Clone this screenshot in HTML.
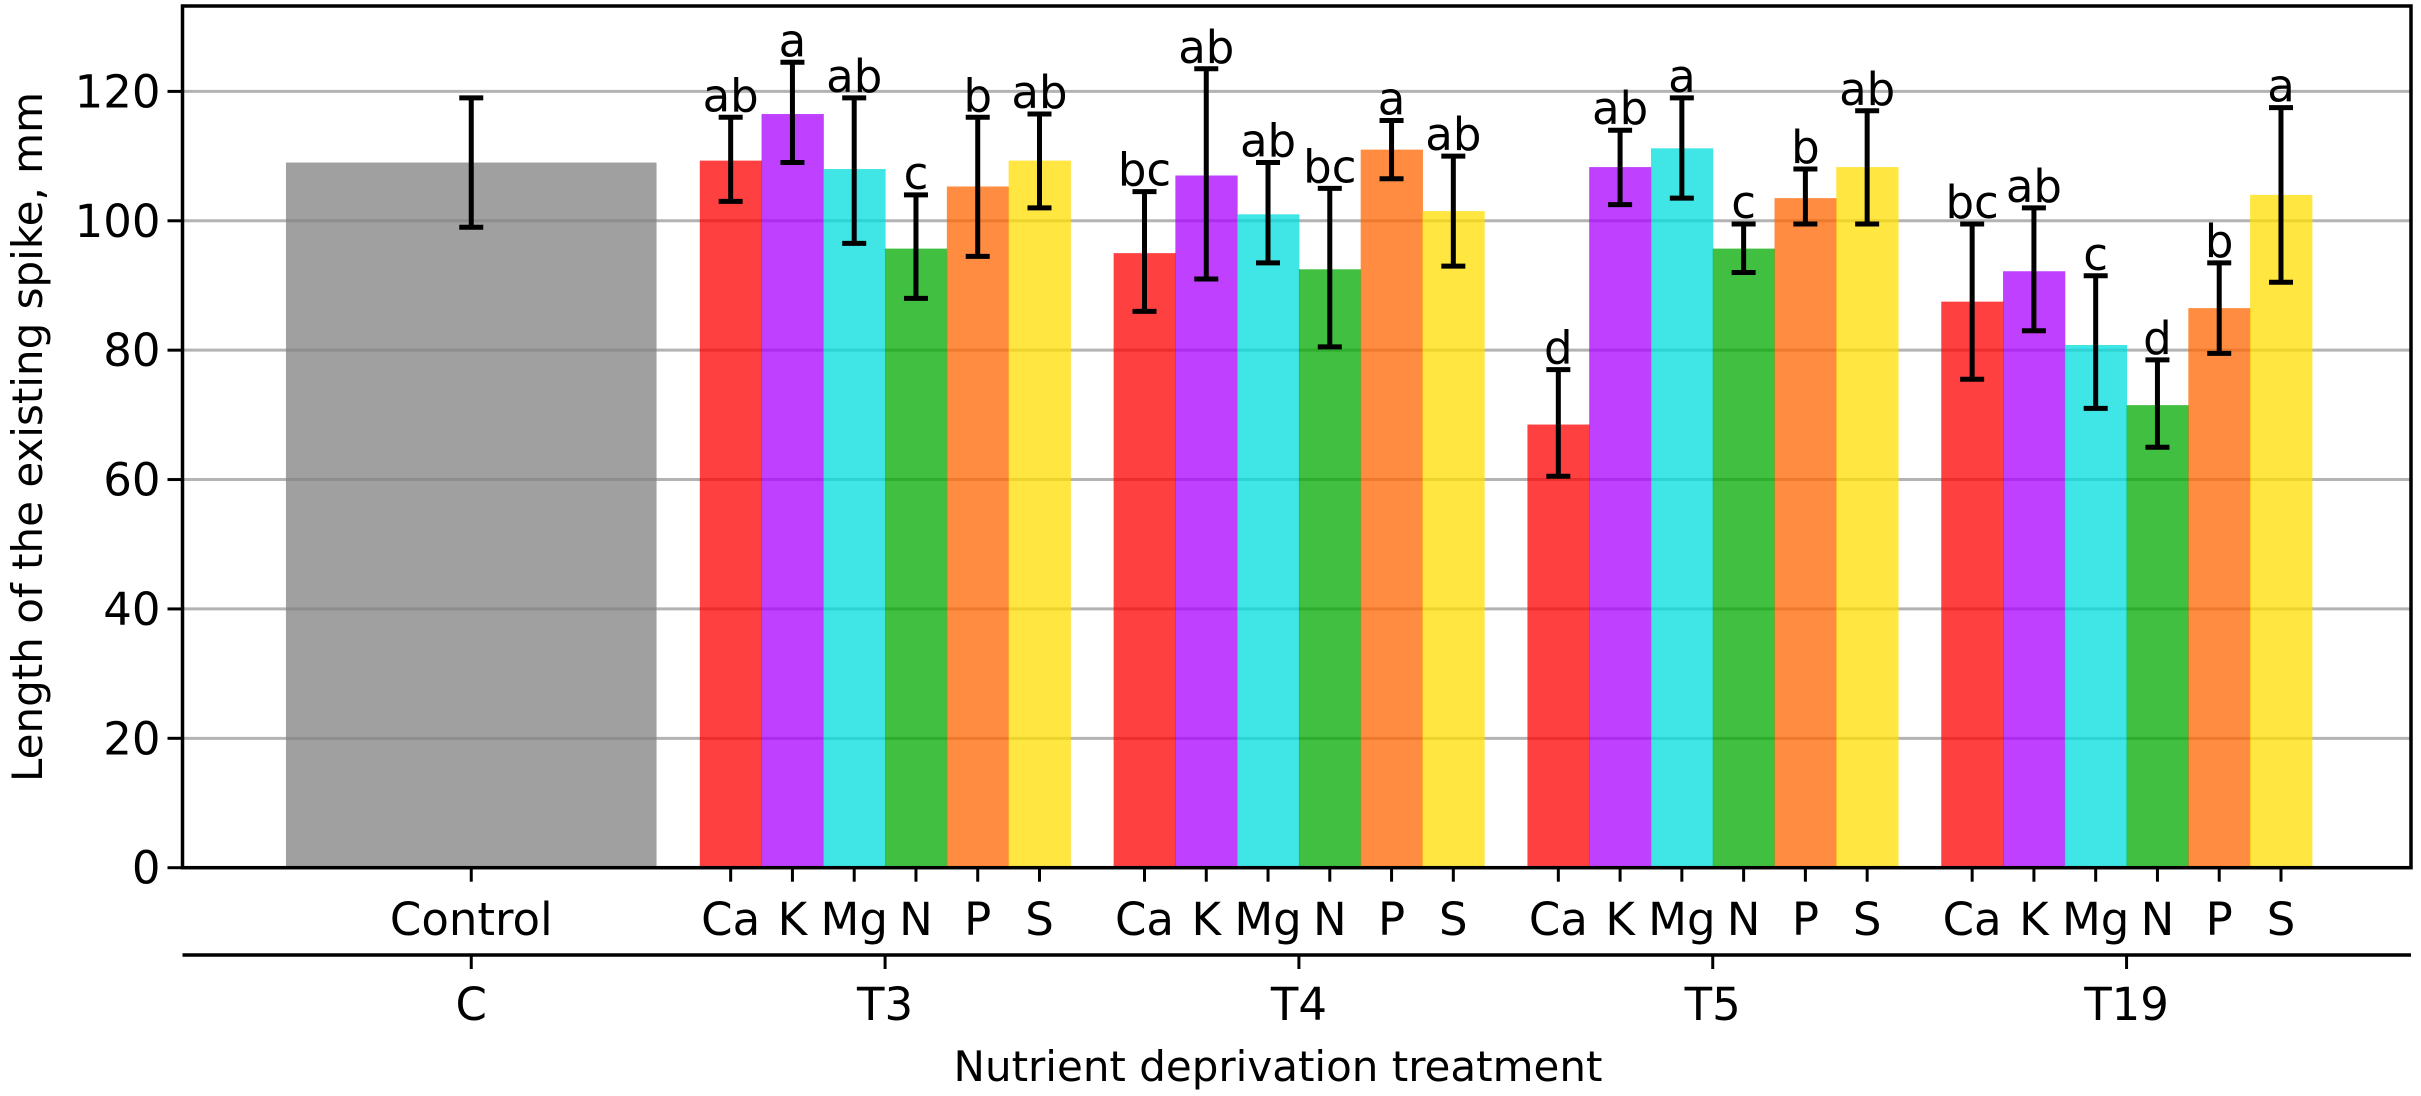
<!DOCTYPE html>
<html><head><meta charset="utf-8"><style>
html,body{margin:0;padding:0;background:#fff}
svg{display:block;font-family:"DejaVu Sans","Liberation Sans",sans-serif}
</style></head><body>
<svg id="chart" width="2421" height="1096" viewBox="0 0 2421 1096">
<g id="grid"></g>
<g id="bars"></g>
<g id="errs"></g>
<g id="axes"></g>
<text x="1278" y="1081" font-size="42" text-anchor="middle">Nutrient deprivation treatment</text>
<text transform="translate(42,437) rotate(-90)" font-size="42" text-anchor="middle">Length of the existing spike, mm</text>
</svg>
<script>
const groups = ["T3","T4","T5","T19"];
const nutrients = ["Ca","K","Mg","N","P","S"];
const controlValue = 109;
const controlLow = 99;
const controlHigh = 119;
const valuesT3 = [109.3,116.5,108,95.7,105.3,109.3];
const lowT3 = [103,109,96.5,88,94.5,102];
const highT3 = [116,124.5,119,104,116,116.5];
const lettersT3 = ["ab","a","ab","c","b","ab"];
const valuesT4 = [95,107,101,92.5,111,101.5];
const lowT4 = [86,91,93.5,80.5,106.5,93];
const highT4 = [104.5,123.5,109,105,115.5,110];
const lettersT4 = ["bc","ab","ab","bc","a","ab"];
const valuesT5 = [68.5,108.3,111.2,95.7,103.5,108.3];
const lowT5 = [60.5,102.5,103.5,92,99.5,99.5];
const highT5 = [77,114,119,99.5,108,117];
const lettersT5 = ["d","ab","a","c","b","ab"];
const valuesT19 = [87.5,92.2,80.8,71.5,86.5,104];
const lowT19 = [75.5,83,71,65,79.5,90.5];
const highT19 = [99.5,102,91.5,78.5,93.5,117.5];
const lettersT19 = ["bc","ab","c","d","b","a"];
const yTicks = [0,20,40,60,80,100,120];

const NS="http://www.w3.org/2000/svg";
const L=182.5,R=2411,T=6,B=867.7,YMAX=133.2;
const unit=(R-L)/36.08;
const X=u=>L+u*unit;
const Y=v=>B-(v/YMAX)*(B-T);
const FS=45;
const colors=["#ff0000","#aa00ff","#00dddd","#00aa00","#ff6600","#ffdd00"];
function mk(tag,attrs,parent,text){const e=document.createElementNS(NS,tag);for(const k in attrs)e.setAttribute(k,attrs[k]);if(text!==undefined)e.textContent=text;parent.appendChild(e);return e;}
const grid=document.getElementById('grid'),bars=document.getElementById('bars'),errs=document.getElementById('errs'),axes=document.getElementById('axes');
yTicks.forEach(t=>{
  if(t>0){const g=mk('line',{x1:L,x2:R,y1:Y(t),y2:Y(t),stroke:'#b3b3b3','stroke-width':3},grid);
  
  }
  const tk=mk('line',{x1:L-15,x2:L,y1:Y(t),y2:Y(t),stroke:'#000','stroke-width':3},axes);
  
  
  const tl=mk('text',{x:L-22,y:Y(t)+16,'font-size':FS,'text-anchor':'end'},axes,String(t));
  
  
});
function errbar(cx,lo,hi,name){
  const g=mk('g',{stroke:'#000','stroke-width':5},errs);
  
  
  mk('line',{x1:cx,x2:cx,y1:Y(lo),y2:Y(hi)},g);
  mk('line',{x1:cx-12,x2:cx+12,y1:Y(lo),y2:Y(lo)},g);
  mk('line',{x1:cx-12,x2:cx+12,y1:Y(hi),y2:Y(hi)},g);
}
const cb=mk('rect',{x:X(1.675),y:Y(controlValue),width:6*unit,height:B-Y(controlValue),fill:'#808080','fill-opacity':0.75},bars);


const ccx=X(4.675);
errbar(ccx,controlLow,controlHigh,'error-bar-control');
function xt(cx,y1,y2,name){const l=mk('line',{x1:cx,x2:cx,y1:y1,y2:y2,stroke:'#000','stroke-width':3},axes);}
function lab(cx,y,t,name){const e=mk('text',{x:cx,y:y,'font-size':FS,'text-anchor':'middle'},axes,t);}
xt(ccx,B,B+14,'x-tick-control');
lab(ccx,935,'Control','x-tick-label-control');
xt(ccx,955,969,'group-tick-c');
lab(ccx,1020,'C','group-label-c');
const vals=[valuesT3,valuesT4,valuesT5,valuesT19],lows=[lowT3,lowT4,lowT5,lowT19],highs=[highT3,highT4,highT5,highT19],lets=[lettersT3,lettersT4,lettersT5,lettersT19];
groups.forEach((gname,gi)=>{
  const start=8.375+6.7*gi;
  nutrients.forEach((n,i)=>{
    const v=vals[gi][i];
    const r=mk('rect',{x:X(start+i),y:Y(v),width:unit+0.5,height:B-Y(v),fill:colors[i],'fill-opacity':0.75},bars);
    
    
    const cx=X(start+i+0.5);
    errbar(cx,lows[gi][i],highs[gi][i],'error-bar-'+gname.toLowerCase()+'-'+n.toLowerCase());
    const lt=mk('text',{x:cx,y:Y(highs[gi][i])-6,'font-size':FS,'text-anchor':'middle'},errs,lets[gi][i]);
    
    
    xt(cx,B,B+14,'x-tick-'+gname.toLowerCase()+'-'+n.toLowerCase());
    lab(cx,935,n,'x-tick-label-'+gname.toLowerCase()+'-'+n.toLowerCase());
  });
  const gc=X(start+3);
  xt(gc,955,969,'group-tick-'+gname.toLowerCase());
  lab(gc,1020,gname,'group-label-'+gname.toLowerCase());
});
const fr=mk('rect',{x:L,y:T,width:R-L,height:B-T,fill:'none',stroke:'#000','stroke-width':3.5},axes);


const gl=mk('line',{x1:L,x2:R,y1:955,y2:955,stroke:'#000','stroke-width':3.5},axes);


</script>
</body></html>
